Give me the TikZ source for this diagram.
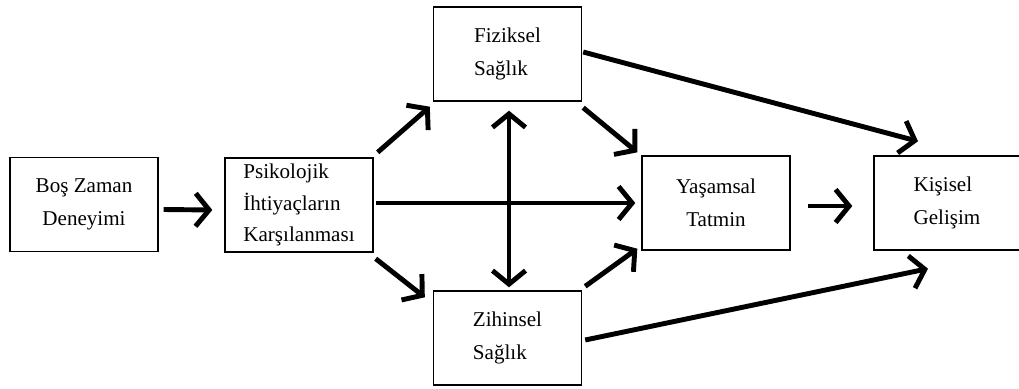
\documentclass[tikz,border=0pt]{standalone}
\usepackage{fontspec}
\setmainfont{Liberation Serif}
\usetikzlibrary{arrows.meta, calc}

\begin{document}
\begin{tikzpicture}[x=0.02cm, y=-0.02cm,
  >={Straight Barb[length=2.7mm, width=6.6mm]},
  box/.style={draw, line width=0.8pt, minimum width=2.96cm, minimum height=1.88cm,
    inner sep=0pt, font=\fontsize{12}{19}\selectfont},
  arr/.style={->, line width=2.8pt}]
  \useasboundingbox (0,0) rectangle (1019,389);
  % kutular
  \node[box, align=left, font=\fontsize{12}{18}\selectfont] (psi) at (299,205)
    {Psikolojik\\İhtiyaçların\\Karşılanması};
  \node[box, align=center] (bos) at (84,204.5) {Boş Zaman\\Deneyimi};
  \node[box, align=left] (fiz) at (507.5,54) {Fiziksel\\Sağlık};
  \node[box, align=left] (zih) at (507.5,338) {Zihinsel\\Sağlık};
  \node[box, align=center] (yas) at (716,203) {Yaşamsal\\Tatmin};
  \node[box, align=left, minimum width=2.92cm] (kis) at (947,203) {Kişisel\\Gelişim};
  % oklar
  \draw[arr] ($(bos.east)+(5,5)$) -- ($(psi.west)+(-12,5)$);
  \draw[arr] ($(psi.north east)+(4,-5)$) -- ($(fiz.south west)+(-3,5)$);
  \draw[arr] ($(psi.south east)+(2,6)$) -- ($(zih.north west)+(-8,7)$);
  \draw[arr] ($(psi.east)+(2,-2)$) -- ($(yas.west)+(-6,0)$);
  \draw[arr, <->] ($(fiz.south)+(1.5,9)$) -- ($(zih.north)+(1.5,-3)$);
  \draw[arr] ($(fiz.south east)+(1,6)$) -- ($(yas.north west)+(-4,-3)$);
  \draw[arr] ($(zih.north east)+(3,-4)$) -- ($(yas.south west)+(-4,-2)$);
  \draw[arr] ($(fiz.east)+(1,-2)$) -- ($(kis.north)+(-29,-14)$);
  \draw[arr] ($(zih.east)+(3,2)$) -- ($(kis.south)+(-19,18)$);
  \draw[arr] ($(yas.east)+(17,3)$) -- ($(kis.west)+(-21,3)$);
\end{tikzpicture}
\end{document}
